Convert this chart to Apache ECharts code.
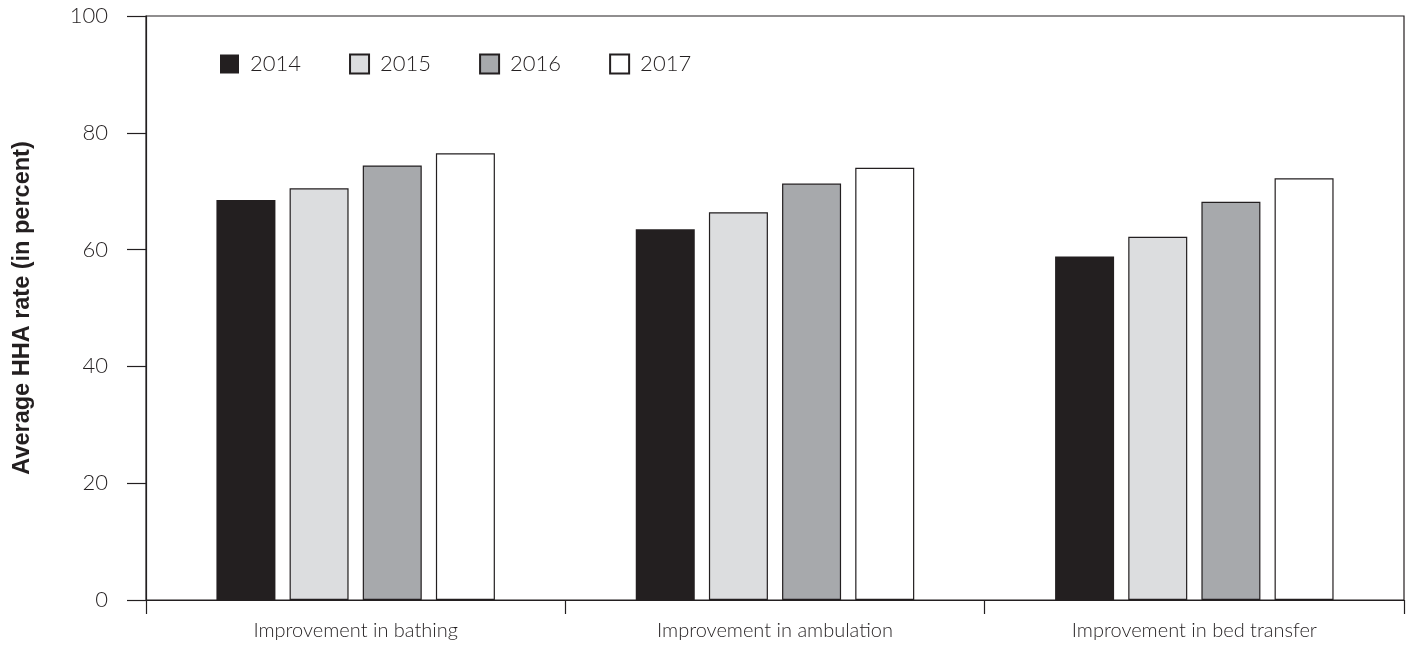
<!DOCTYPE html>
<html>
<head>
<meta charset="utf-8">
<script src="https://cdn.jsdelivr.net/npm/echarts@6/dist/echarts.min.js"></script>
<style>
  html, body { margin: 0; padding: 0; background: #fff; }
  #main { width: 1409px; height: 646px; }
</style>
</head>
<body>
<div id="main"></div>
<script>
var categories = ['Improvement in bathing', 'Improvement in ambulation', 'Improvement in bed transfer'];
var years = ['2014', '2015', '2016', '2017'];
var rates2014 = [68.5, 63.5, 58.8];
var rates2015 = [70.5, 66.4, 62.2];
var rates2016 = [74.4, 71.3, 68.2];
var rates2017 = [76.5, 74.0, 72.2];
var yTicks = [0, 20, 40, 60, 80, 100];

var fills = ['#231f20', '#dcdddf', '#a7a9ac', '#ffffff'];
var ink = '#231f20';
var lightFont = 'Lato';

var chart = echarts.init(document.getElementById('main'));

function makeSeries(name, data, i) {
  return {
    name: name,
    type: 'bar',
    data: data,
    barWidth: 59,
    barGap: '24%',
    itemStyle: {
      color: fills[i],
      borderColor: ink,
      borderWidth: i === 0 ? 0 : 1.2
    }
  };
}

var option = {
  animation: false,
  grid: {
    left: 146, right: 5, top: 16, bottom: 46,
    outerBoundsMode: 'none',
    containLabel: false,
    show: true,
    borderColor: ink,
    borderWidth: 1.2
  },
  legend: {
    left: 220,
    top: 53,
    padding: 0,
    itemWidth: 19,
    itemHeight: 19,
    itemGap: 48,
    icon: 'rect',
    data: years,
    textStyle: {
      fontFamily: lightFont,
      fontWeight: 300,
      fontSize: 22,
      color: ink,
      padding: [0, 0, 0, 6]
    }
  },
  xAxis: {
    type: 'category',
    data: categories,
    axisLine: { lineStyle: { color: ink, width: 1.2 } },
    axisTick: { show: true, length: 14, lineStyle: { color: ink, width: 1.2 } },
    axisLabel: {
      margin: 21,
      fontFamily: lightFont,
      fontWeight: 300,
      fontSize: 20,
      color: ink
    }
  },
  yAxis: {
    type: 'value',
    min: 0,
    max: 100,
    interval: 20,
    name: 'Average HHA rate (in percent)',
    nameLocation: 'middle',
    nameGap: 111,
    nameTextStyle: {
      fontFamily: 'Liberation Sans',
      fontWeight: 'bold',
      fontSize: 23.5,
      color: ink
    },
    axisLine: { show: true, lineStyle: { color: ink, width: 1.2 } },
    axisTick: { show: true, length: 19, lineStyle: { color: ink, width: 1.2 } },
    splitLine: { show: false },
    axisLabel: {
      margin: 38,
      fontFamily: lightFont,
      fontWeight: 300,
      fontSize: 22,
      color: ink,
      formatter: function (v) { return yTicks.indexOf(v) >= 0 ? String(v) : ''; }
    }
  },
  series: [
    makeSeries(years[0], rates2014, 0),
    makeSeries(years[1], rates2015, 1),
    makeSeries(years[2], rates2016, 2),
    makeSeries(years[3], rates2017, 3)
  ]
};

chart.setOption(option);
</script>
</body>
</html>
